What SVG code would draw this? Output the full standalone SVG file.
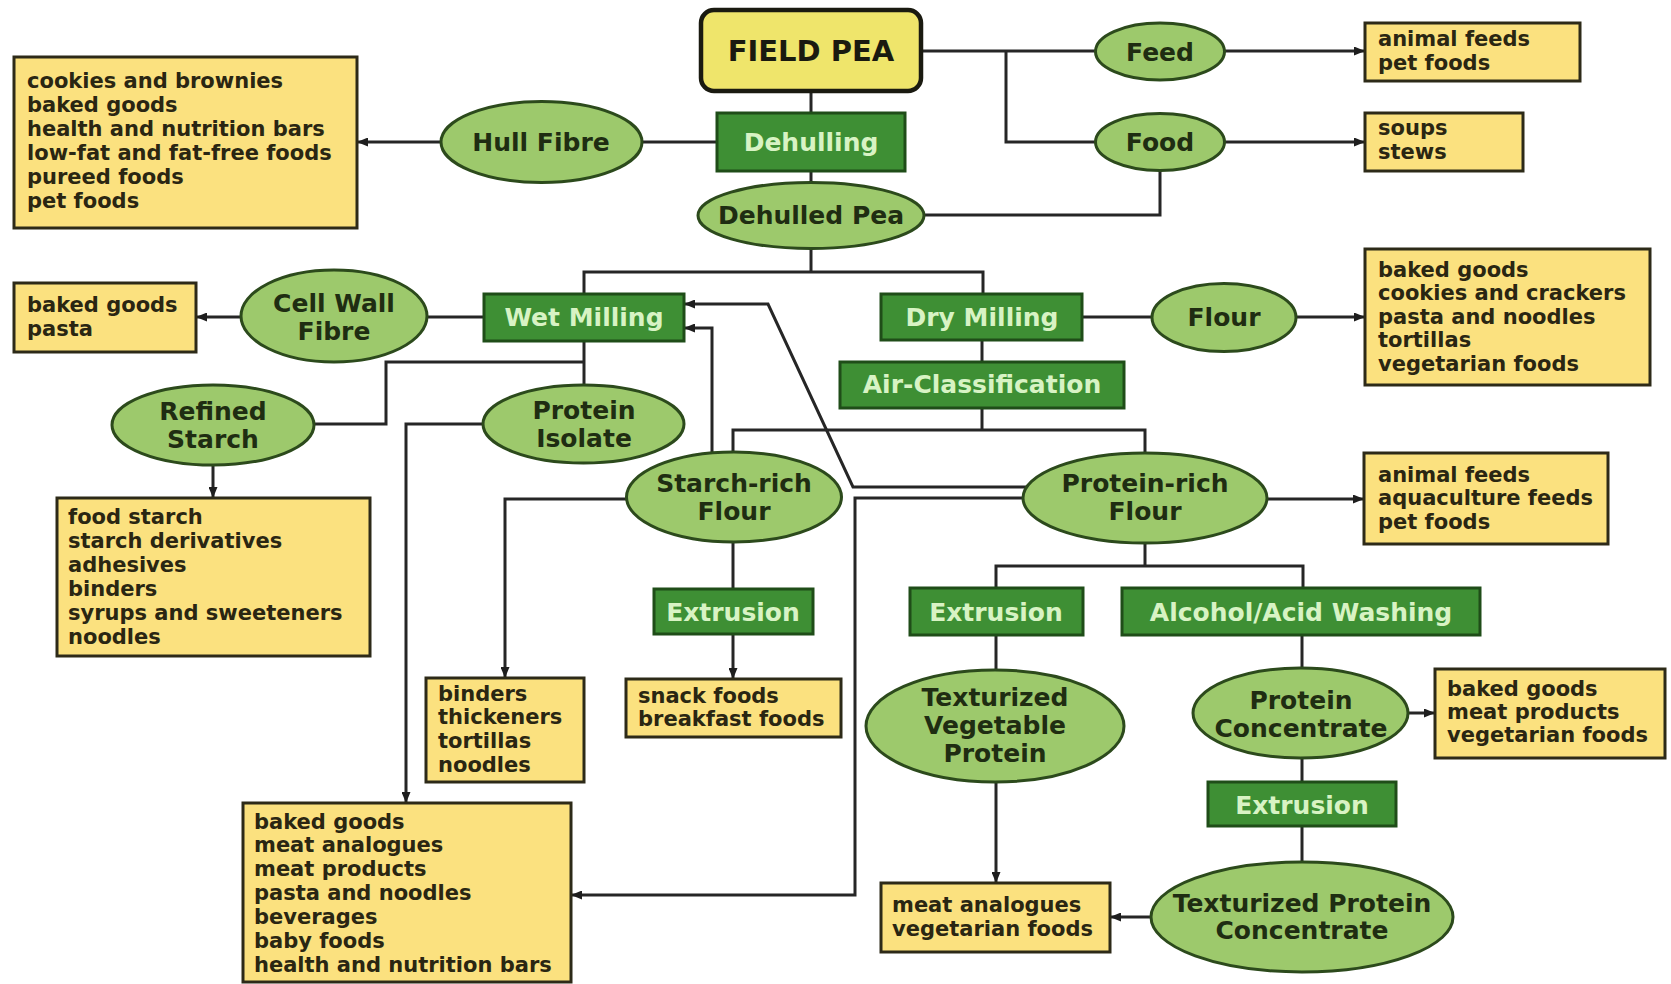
<svg xmlns="http://www.w3.org/2000/svg" width="1671" height="984" viewBox="0 0 1671 984">
<defs>
<marker id="ah" markerUnits="userSpaceOnUse" markerWidth="11" markerHeight="9" refX="10" refY="4.5" orient="auto">
<path d="M0,0 L11,4.5 L0,9 z" fill="#1e1e1e"/>
</marker>
<style>
.box{fill:#fbe17f;stroke:#2d2a18;stroke-width:3}
.ell{fill:#9dc96c;stroke:#2c4a1c;stroke-width:3}
.proc{fill:#3e8f34;stroke:#1f4d18;stroke-width:3}
.root{fill:#efe56b;stroke:#1a1a10;stroke-width:4.5}
.ln{fill:none;stroke:#262626;stroke-width:3}
.arr{marker-end:url(#ah)}
text{font-family:"DejaVu Sans","Liberation Sans",sans-serif;font-weight:bold}
.lt{font-size:21px;fill:#2a2612}
.et{font-size:25px;text-anchor:middle;fill:#1f2d12}
.pt{font-size:25px;text-anchor:middle;fill:#d8f3c4}
</style>
</defs>
<rect width="1671" height="984" fill="#ffffff"/>

<g id="connectors">
<path class="ln" d="M811,91 V113"/>
<path class="ln" d="M811,171 V183"/>
<path class="ln" d="M717,142 H642"/>
<path class="ln" d="M921,51 H1096"/>
<path class="ln" d="M1006,51 V142 H1096"/>
<path class="ln" d="M924,215 H1160 V171"/>
<path class="ln" d="M811,248 V272"/>
<path class="ln" d="M584,294 V272 H983 V294"/>
<path class="ln" d="M484,317 H427"/>
<path class="ln" d="M584,341 V385"/>
<path class="ln" d="M584,362 H386 V424 H314"/>
<path class="ln" d="M1082,317 H1152"/>
<path class="ln" d="M982,340 V362"/>
<path class="ln" d="M982,408 V430"/>
<path class="ln" d="M733,460 V430 H1145 V460"/>
<path class="ln" d="M733,542 V589"/>
<path class="ln" d="M1145,543 V566"/>
<path class="ln" d="M996,588 V566 H1303 V588"/>
<path class="ln" d="M996,635 V670"/>
<path class="ln" d="M1302,635 V668"/>
<path class="ln" d="M1302,758 V782"/>
<path class="ln" d="M1302,826 V862"/>
<path class="ln arr" d="M441,142 H358"/>
<path class="ln arr" d="M241,317 H197"/>
<path class="ln arr" d="M1224,51 H1364"/>
<path class="ln arr" d="M1224,142 H1364"/>
<path class="ln arr" d="M1296,317 H1364"/>
<path class="ln arr" d="M1267,499 H1363"/>
<path class="ln arr" d="M1408,713 H1434"/>
<path class="ln arr" d="M1151,917 H1111"/>
<path class="ln arr" d="M996,782 V882"/>
<path class="ln arr" d="M733,634 V678"/>
<path class="ln arr" d="M213,465 V497"/>
<path class="ln arr" d="M640,499 H505 V677"/>
<path class="ln arr" d="M490,424 H406 V802"/>
<path class="ln arr" d="M1030,498 H855 V895 H572"/>
<path class="ln arr" d="M1030,487 H853 L768,304 H685"/>
<path class="ln arr" d="M712,470 V328 H685"/>
</g>

<g id="field-pea">
<rect class="root" x="701" y="10" width="220" height="81" rx="13"/>
<text x="811" y="61" style="font-size:29px;text-anchor:middle;fill:#1a1a10">FIELD PEA</text>
</g>
<g id="dehulling">
<rect class="proc" x="717" y="113" width="188" height="58"/>
<text class="pt" x="811" y="151">Dehulling</text>
</g>
<g id="dehulled-pea">
<ellipse class="ell" cx="811" cy="215.5" rx="113" ry="33"/>
<text class="et" x="811" y="224">Dehulled Pea</text>
</g>
<g id="hull-fibre">
<ellipse class="ell" cx="541.5" cy="142" rx="100.5" ry="40.5"/>
<text class="et" x="541" y="151">Hull Fibre</text>
</g>
<g id="hull-uses">
<rect class="box" x="14" y="57" width="343" height="171"/>
<text class="lt"><tspan x="27" y="88">cookies and brownies</tspan><tspan x="27" y="112">baked goods</tspan><tspan x="27" y="136">health and nutrition bars</tspan><tspan x="27" y="160">low-fat and fat-free foods</tspan><tspan x="27" y="184">pureed foods</tspan><tspan x="27" y="208">pet foods</tspan></text>
</g>
<g id="feed">
<ellipse class="ell" cx="1160" cy="51.5" rx="64.5" ry="28.5"/>
<text class="et" x="1160" y="61">Feed</text>
</g>
<g id="feed-uses">
<rect class="box" x="1365" y="23" width="215" height="58"/>
<text class="lt"><tspan x="1378" y="46">animal feeds</tspan><tspan x="1378" y="70">pet foods</tspan></text>
</g>
<g id="food">
<ellipse class="ell" cx="1160" cy="142" rx="64.5" ry="28.5"/>
<text class="et" x="1160" y="151">Food</text>
</g>
<g id="food-uses">
<rect class="box" x="1365" y="113" width="158" height="58"/>
<text class="lt"><tspan x="1378" y="135">soups</tspan><tspan x="1378" y="159">stews</tspan></text>
</g>
<g id="wet-milling">
<rect class="proc" x="484" y="294" width="200" height="47"/>
<text class="pt" x="584" y="326">Wet Milling</text>
</g>
<g id="dry-milling">
<rect class="proc" x="881" y="294" width="201" height="46"/>
<text class="pt" x="982" y="326">Dry Milling</text>
</g>
<g id="cell-wall-fibre">
<ellipse class="ell" cx="334" cy="316" rx="93" ry="46"/>
<text class="et"><tspan x="334" y="312">Cell Wall</tspan><tspan x="334" y="340">Fibre</tspan></text>
</g>
<g id="cell-wall-uses">
<rect class="box" x="14" y="283" width="182" height="69"/>
<text class="lt"><tspan x="27" y="312">baked goods</tspan><tspan x="27" y="336">pasta</tspan></text>
</g>
<g id="flour">
<ellipse class="ell" cx="1224" cy="317.5" rx="72" ry="34"/>
<text class="et" x="1224" y="326">Flour</text>
</g>
<g id="flour-uses">
<rect class="box" x="1365" y="249" width="285" height="136"/>
<text class="lt"><tspan x="1378" y="277">baked goods</tspan><tspan x="1378" y="300">cookies and crackers</tspan><tspan x="1378" y="324">pasta and noodles</tspan><tspan x="1378" y="347">tortillas</tspan><tspan x="1378" y="371">vegetarian foods</tspan></text>
</g>
<g id="air-classification">
<rect class="proc" x="840" y="362" width="284" height="46"/>
<text class="pt" x="982" y="393">Air-Classification</text>
</g>
<g id="refined-starch">
<ellipse class="ell" cx="213" cy="425" rx="101" ry="40"/>
<text class="et"><tspan x="213" y="420">Refined</tspan><tspan x="213" y="448">Starch</tspan></text>
</g>
<g id="starch-uses">
<rect class="box" x="57" y="498" width="313" height="158"/>
<text class="lt"><tspan x="68" y="524">food starch</tspan><tspan x="68" y="548">starch derivatives</tspan><tspan x="68" y="572">adhesives</tspan><tspan x="68" y="596">binders</tspan><tspan x="68" y="620">syrups and sweeteners</tspan><tspan x="68" y="644">noodles</tspan></text>
</g>
<g id="protein-isolate">
<ellipse class="ell" cx="583.5" cy="424" rx="100.5" ry="39"/>
<text class="et"><tspan x="584" y="419">Protein</tspan><tspan x="584" y="447">Isolate</tspan></text>
</g>
<g id="starch-rich-flour">
<ellipse class="ell" cx="734" cy="497" rx="107.5" ry="45"/>
<text class="et"><tspan x="734" y="492">Starch-rich</tspan><tspan x="734" y="520">Flour</tspan></text>
</g>
<g id="protein-rich-flour">
<ellipse class="ell" cx="1145" cy="498" rx="122" ry="45"/>
<text class="et"><tspan x="1145" y="492">Protein-rich</tspan><tspan x="1145" y="520">Flour</tspan></text>
</g>
<g id="protein-rich-uses">
<rect class="box" x="1364" y="453" width="244" height="91"/>
<text class="lt"><tspan x="1378" y="482">animal feeds</tspan><tspan x="1378" y="505">aquaculture feeds</tspan><tspan x="1378" y="529">pet foods</tspan></text>
</g>
<g id="extrusion-starch">
<rect class="proc" x="654" y="589" width="159" height="45"/>
<text class="pt" x="733" y="621">Extrusion</text>
</g>
<g id="extrusion-protein">
<rect class="proc" x="910" y="588" width="173" height="47"/>
<text class="pt" x="996" y="621">Extrusion</text>
</g>
<g id="alcohol-acid-washing">
<rect class="proc" x="1122" y="588" width="358" height="47"/>
<text class="pt" x="1301" y="621">Alcohol/Acid Washing</text>
</g>
<g id="binders-uses">
<rect class="box" x="426" y="678" width="158" height="104"/>
<text class="lt"><tspan x="438" y="701">binders</tspan><tspan x="438" y="724">thickeners</tspan><tspan x="438" y="748">tortillas</tspan><tspan x="438" y="772">noodles</tspan></text>
</g>
<g id="snack-uses">
<rect class="box" x="626" y="679" width="215" height="58"/>
<text class="lt"><tspan x="638" y="703">snack foods</tspan><tspan x="638" y="726">breakfast foods</tspan></text>
</g>
<g id="tvp">
<ellipse class="ell" cx="995" cy="726" rx="129" ry="56"/>
<text class="et"><tspan x="995" y="706">Texturized</tspan><tspan x="995" y="734">Vegetable</tspan><tspan x="995" y="762">Protein</tspan></text>
</g>
<g id="protein-concentrate">
<ellipse class="ell" cx="1300.5" cy="713" rx="107.5" ry="45"/>
<text class="et"><tspan x="1301" y="709">Protein</tspan><tspan x="1301" y="737">Concentrate</tspan></text>
</g>
<g id="pc-uses">
<rect class="box" x="1435" y="669" width="230" height="89"/>
<text class="lt"><tspan x="1447" y="696">baked goods</tspan><tspan x="1447" y="719">meat products</tspan><tspan x="1447" y="742">vegetarian foods</tspan></text>
</g>
<g id="extrusion-pc">
<rect class="proc" x="1208" y="782" width="188" height="44"/>
<text class="pt" x="1302" y="814">Extrusion</text>
</g>
<g id="tpc">
<ellipse class="ell" cx="1302" cy="917" rx="151" ry="55"/>
<text class="et"><tspan x="1302" y="912">Texturized Protein</tspan><tspan x="1302" y="939">Concentrate</tspan></text>
</g>
<g id="meat-uses">
<rect class="box" x="881" y="883" width="229" height="69"/>
<text class="lt"><tspan x="892" y="912">meat analogues</tspan><tspan x="892" y="936">vegetarian foods</tspan></text>
</g>
<g id="isolate-uses">
<rect class="box" x="243" y="803" width="328" height="179"/>
<text class="lt"><tspan x="254" y="829">baked goods</tspan><tspan x="254" y="852">meat analogues</tspan><tspan x="254" y="876">meat products</tspan><tspan x="254" y="900">pasta and noodles</tspan><tspan x="254" y="924">beverages</tspan><tspan x="254" y="948">baby foods</tspan><tspan x="254" y="972">health and nutrition bars</tspan></text>
</g>
</svg>
